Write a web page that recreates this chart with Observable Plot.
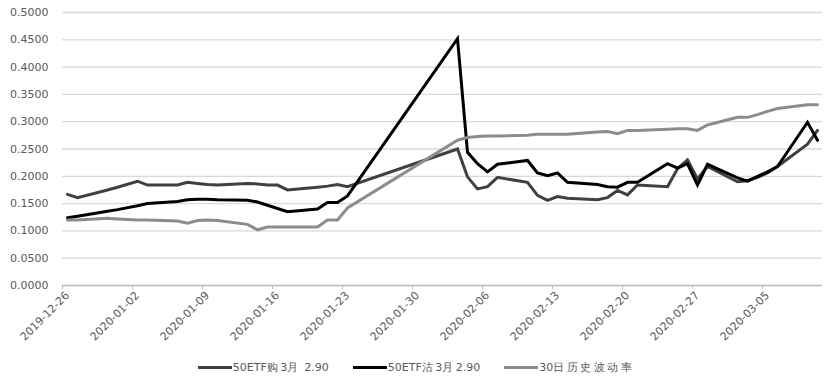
<!DOCTYPE html>
<html><head><meta charset="utf-8">
<script src="https://cdn.jsdelivr.net/npm/d3@7"></script>
<script src="https://cdn.jsdelivr.net/npm/@observablehq/plot@0.6"></script>
<style>
body{margin:0;background:#fff;font-family:"DejaVu Sans",sans-serif;}
#wrap{position:relative;width:830px;height:385px;}
#legend{position:absolute;left:1px;top:360px;width:830px;display:flex;justify-content:center;gap:24px;font-size:11px;color:#595959;font-family:"DejaVu Sans",sans-serif;}
.item{display:flex;align-items:center;white-space:pre;}
.sw{display:inline-block;width:34px;height:3px;margin-right:1px;}
.cjk{letter-spacing:2.5px;}
</style>
</head><body><div id="wrap"><div id="chart"></div><div id="legend"></div></div>
<script>
const dates = ["2019-12-26","2019-12-27","2019-12-30","2019-12-31","2020-01-02","2020-01-03","2020-01-06","2020-01-07","2020-01-08","2020-01-09","2020-01-10","2020-01-13","2020-01-14","2020-01-15","2020-01-16","2020-01-17","2020-01-20","2020-01-21","2020-01-22","2020-01-23","2020-02-03","2020-02-04","2020-02-05","2020-02-06","2020-02-07","2020-02-10","2020-02-11","2020-02-12","2020-02-13","2020-02-14","2020-02-17","2020-02-18","2020-02-19","2020-02-20","2020-02-21","2020-02-24","2020-02-25","2020-02-26","2020-02-27","2020-02-28","2020-03-02","2020-03-03","2020-03-04","2020-03-05","2020-03-06","2020-03-09","2020-03-10"];
const callIV = [0.167,0.161,0.175,0.180,0.191,0.184,0.184,0.189,0.187,0.185,0.184,0.187,0.186,0.184,0.184,0.175,0.180,0.182,0.185,0.181,0.250,0.199,0.177,0.181,0.198,0.189,0.165,0.156,0.163,0.160,0.157,0.161,0.174,0.166,0.184,0.181,0.214,0.230,0.195,0.218,0.190,0.192,0.198,0.206,0.218,0.259,0.284];
const putIV = [0.124,0.127,0.136,0.139,0.146,0.150,0.154,0.157,0.158,0.158,0.157,0.156,0.153,0.147,0.141,0.135,0.140,0.152,0.152,0.164,0.452,0.244,0.223,0.208,0.222,0.229,0.206,0.201,0.206,0.189,0.185,0.181,0.180,0.189,0.189,0.223,0.215,0.223,0.184,0.222,0.197,0.191,0.200,0.208,0.218,0.299,0.266];
const hv30 = [0.120,0.120,0.123,0.122,0.120,0.120,0.118,0.114,0.119,0.120,0.119,0.112,0.102,0.107,0.107,0.107,0.107,0.120,0.120,0.142,0.266,0.271,0.273,0.274,0.274,0.275,0.277,0.277,0.277,0.277,0.281,0.282,0.278,0.284,0.284,0.286,0.287,0.287,0.284,0.294,0.308,0.308,0.313,0.319,0.324,0.331,0.331];
const seriesNames = ["50ETF购3月 2.90","50ETF沽3月2.90","30日历史波动率"];
const seriesColors = ["#404040","#000000","#8c8c8c"];
const yTicks = [0,0.05,0.1,0.15,0.2,0.25,0.3,0.35,0.4,0.45,0.5];
const xTickLabels = ["2019-12-26","2020-01-02","2020-01-09","2020-01-16","2020-01-23","2020-01-30","2020-02-06","2020-02-13","2020-02-20","2020-02-27","2020-03-05"];
const xDomain = ["2019-12-26","2020-03-11"];

const allSeries = [callIV, putIV, hv30];
const rows = [];
allSeries.forEach((vals, i) => {
  vals.forEach((v, j) => rows.push({date: new Date(dates[j] + "T12:00:00Z"), value: v, series: seriesNames[i]}));
});
const xTickDates = xTickLabels.map(d => new Date(d + "T00:00:00Z"));

const chart = Plot.plot({
  width: 830, height: 350,
  marginTop: 12, marginLeft: 62, marginRight: 8, marginBottom: 65,
  style: {fontSize: "11px", fontFamily: "DejaVu Sans", color: "#595959", background: "#fff"},
  x: {type: "utc", domain: xDomain.map(d => new Date(d + "T00:00:00Z"))},
  y: {domain: [0, 0.5]},
  color: {domain: seriesNames, range: seriesColors},
  marks: [
    Plot.gridY(yTicks, {stroke: "#d9d9d9", strokeOpacity: 1, strokeWidth: 1.3}),
    Plot.axisY(yTicks, {tickSize: 0, tickPadding: 14, tickFormat: d => d.toFixed(4), label: null, fill: "#595959"}),
    Plot.axisX(xTickDates, {tickSize: 4, stroke: "#bfbfbf", label: null, tickFormat: () => ""}),
    Plot.axisX(xTickDates, {tickRotate: -45, tickSize: 0, tickPadding: 8, dx: 5, fill: "#595959", label: null, tickFormat: d3.utcFormat("%Y-%m-%d")}),
    Plot.ruleY([0], {stroke: "#bfbfbf", strokeWidth: 1.3}),
    Plot.lineY(rows, {x: "date", y: "value", z: "series", stroke: "series", strokeWidth: 3, strokeLinejoin: "miter", strokeMiterlimit: 3})
  ]
});
document.getElementById("chart").appendChild(chart);

const legend = document.getElementById("legend");
seriesNames.forEach((n, i) => {
  const it = document.createElement("div");
  it.className = "item";
  const sw = document.createElement("span");
  sw.className = "sw";
  sw.style.background = seriesColors[i];
  it.appendChild(sw);
  for (const ch of n) {
    const s = document.createElement("span");
    if (/[\u4e00-\u9fff]/.test(ch)) s.className = "cjk";
    s.textContent = ch;
    it.appendChild(s);
  }
  legend.appendChild(it);
});
</script>
</body></html>
